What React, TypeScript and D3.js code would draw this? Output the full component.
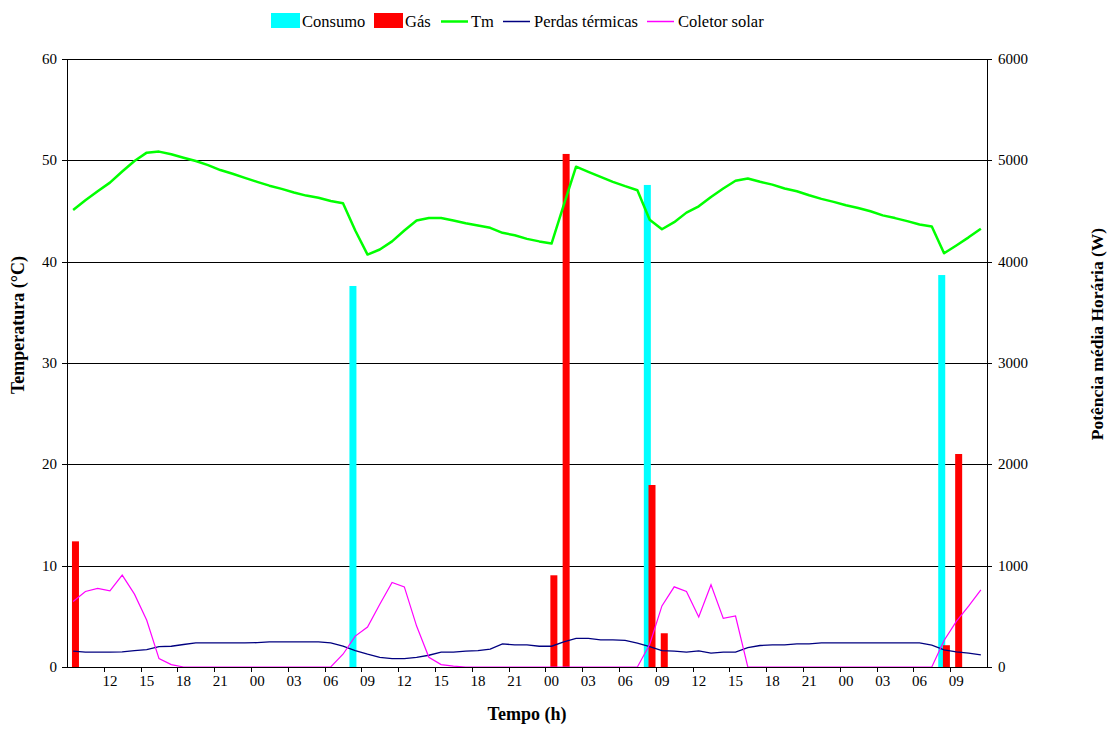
import React from "react";
import * as d3 from "d3";

const categories: string[] = [
  "09","10","11","12","13","14","15","16","17","18","19","20","21","22","23",
  "00","01","02","03","04","05","06","07","08","09","10","11","12","13","14","15","16","17","18","19","20","21","22","23",
  "00","01","02","03","04","05","06","07","08","09","10","11","12","13","14","15","16","17","18","19","20","21","22","23",
  "00","01","02","03","04","05","06","07","08","09","10","11",
];
// unique keys for the band scale
const catKeys = categories.map((c, i) => `${i}_${c}`);

const tmValues: number[] = [
  45.1, 46.06, 46.95, 47.8, 48.9, 49.93, 50.76, 50.86, 50.6, 50.26,
  49.93, 49.53, 49.04, 48.67, 48.27, 47.88, 47.5, 47.18, 46.82, 46.52,
  46.3, 45.99, 45.76, 43.08, 40.7, 41.2, 42.0, 43.08, 44.07, 44.3,
  44.3, 44.07, 43.8, 43.57, 43.34, 42.85, 42.6, 42.25, 42.0, 41.79,
  45.6, 49.37, 48.87, 48.37, 47.88, 47.45, 47.05, 44.14, 43.2, 43.9,
  44.84, 45.46, 46.39, 47.22, 47.98, 48.21, 47.88, 47.6, 47.22, 46.95,
  46.55, 46.2, 45.9, 45.56, 45.3, 44.97, 44.57, 44.3, 44.0, 43.67,
  43.47, 40.83, 41.6, 42.4, 43.25,
];

const coletorValues: number[] = [
  646, 745, 775, 752, 907, 719, 461, 83, 24, 0,
  0, 0, 0, 0, 0, 0, 0, 0, 0, 0,
  0, 0, 126, 305, 394, 620, 834, 791, 404, 96,
  24, 8, 0, 0, 0, 0, 0, 0, 0, 0,
  0, 0, 0, 0, 0, 0, 0, 222, 603, 791,
  745, 494, 811, 480, 503, 0, 0, 0, 0, 0,
  0, 0, 0, 0, 0, 0, 0, 0, 0, 0,
  0, 262, 450, 600, 762,
];

const perdasValues: number[] = [
  156, 146, 146, 146, 149, 162, 172, 202, 205, 222,
  238, 238, 238, 238, 238, 240, 248, 248, 248, 248,
  248, 238, 205, 162, 126, 96, 83, 83, 96, 116,
  146, 146, 156, 162, 176, 228, 218, 218, 205, 205,
  248, 282, 282, 268, 268, 262, 235, 202, 162, 156,
  146, 159, 136, 146, 146, 192, 212, 218, 218, 228,
  228, 238, 238, 238, 238, 238, 238, 238, 238, 238,
  215, 169, 149, 136, 119,
];

const consumoValues: number[] = [
  0, 0, 0, 0, 0, 0, 0, 0, 0, 0,
  0, 0, 0, 0, 0, 0, 0, 0, 0, 0,
  0, 0, 0, 3760, 0, 0, 0, 0, 0, 0,
  0, 0, 0, 0, 0, 0, 0, 0, 0, 0,
  0, 0, 0, 0, 0, 0, 0, 4757, 0, 0,
  0, 0, 0, 0, 0, 0, 0, 0, 0, 0,
  0, 0, 0, 0, 0, 0, 0, 0, 0, 0,
  0, 3868, 0, 0, 0,
];

const gasValues: number[] = [
  1240, 0, 0, 0, 0, 0, 0, 0, 0, 0,
  0, 0, 0, 0, 0, 0, 0, 0, 0, 0,
  0, 0, 0, 0, 0, 0, 0, 0, 0, 0,
  0, 0, 0, 0, 0, 0, 0, 0, 0, 905,
  5063, 0, 0, 0, 0, 0, 0, 1796, 333, 0,
  0, 0, 0, 0, 0, 0, 0, 0, 0, 0,
  0, 0, 0, 0, 0, 0, 0, 0, 0, 0,
  0, 215, 2102, 0, 0,
];

const leftTicks = [0, 10, 20, 30, 40, 50, 60];
const rightTicks = [0, 1000, 2000, 3000, 4000, 5000, 6000];

const FONT = '"Liberation Serif", "DejaVu Serif", serif';
const T = { fontFamily: FONT } as React.CSSProperties;

export default function App() {
  const W = 1114, H = 733;
  const left = 67, right = 987, top = 59, bottom = 667;

  const x = d3.scaleBand<string>().domain(catKeys).range([left, right]).padding(0);
  const bw = x.bandwidth();
  const yL = d3.scaleLinear().domain([0, 60]).range([bottom, top]);
  const yR = d3.scaleLinear().domain([0, 6000]).range([bottom, top]);
  const cx = (i: number) => (x(catKeys[i]) as number) + bw / 2;

  const tmLine = d3.line<number>().x((_, i) => cx(i)).y((d) => yL(d));
  const rLine = d3.line<number>().x((_, i) => cx(i)).y((d) => yR(d));

  const barW = 7;
  const crisp = (v: number) => Math.round(v) + 0.5;

  const labelIdx = categories.map((_, i) => i).filter((i) => i > 0 && i % 3 === 0);
  const tickIdx = d3.range(3, categories.length, 3);

  const legendItems = [
    { type: "rect", color: "#00FFFF", label: "Consumo", x: 271, tx: 302 },
    { type: "rect", color: "#FF0000", label: "Gás", x: 374, tx: 405 },
    { type: "line", color: "#00FF00", label: "Tm", x: 441, tx: 471, w: 2.5 },
    { type: "line", color: "#000080", label: "Perdas térmicas", x: 503, tx: 534, w: 1.5 },
    { type: "line", color: "#FF00FF", label: "Coletor solar", x: 647, tx: 678, w: 1.5 },
  ];

  return (
    <svg
      width={W}
      height={H}
      style={{ position: "absolute", left: 0, top: 0, background: "#fff", fontFamily: FONT }}
    >
      <rect x={0} y={0} width={W} height={H} fill="#fff" />
      {/* gridlines */}
      {leftTicks.filter((t) => t > 0).map((t) => (
        <line key={"g" + t} x1={left} x2={right} y1={crisp(yL(t))} y2={crisp(yL(t))} stroke="#000" strokeWidth={1} />
      ))}

      {/* bars */}
      {consumoValues.map((v, i) =>
        v > 0 ? (
          <rect key={"c" + i} x={(x(catKeys[i]) as number) + 0.3} y={yR(v)} width={barW} height={bottom - yR(v)} fill="#00FFFF" />
        ) : null
      )}
      {gasValues.map((v, i) =>
        v > 0 ? (
          <rect key={"r" + i} x={(x(catKeys[i]) as number) + bw - barW - 0.3} y={yR(v)} width={barW} height={bottom - yR(v)} fill="#FF0000" />
        ) : null
      )}

      {/* lines */}
      <path d={rLine(perdasValues) || ""} fill="none" stroke="#000080" strokeWidth={1.3} />
      <path d={rLine(coletorValues) || ""} fill="none" stroke="#FF00FF" strokeWidth={1.2} />
      <path d={tmLine(tmValues) || ""} fill="none" stroke="#00FF00" strokeWidth={2.5} strokeLinejoin="round" />

      {/* axes */}
      <line x1={crisp(left)} x2={crisp(left)} y1={top} y2={bottom} stroke="#000" />
      <line x1={crisp(right)} x2={crisp(right)} y1={top} y2={bottom} stroke="#000" />
      <line x1={left} x2={right} y1={crisp(bottom)} y2={crisp(bottom)} stroke="#000" />

      {leftTicks.map((t) => (
        <g key={"lt" + t}>
          <line x1={left - 5} x2={left} y1={crisp(yL(t))} y2={crisp(yL(t))} stroke="#000" />
          <text style={T} x={57} y={yL(t)} dy="0.33em" textAnchor="end" fontSize={15}>{t}</text>
        </g>
      ))}
      {rightTicks.map((t) => (
        <g key={"rt" + t}>
          <line x1={right} x2={right + 5} y1={crisp(yR(t))} y2={crisp(yR(t))} stroke="#000" />
          <text style={T} x={998} y={yR(t)} dy="0.33em" textAnchor="start" fontSize={15}>{t}</text>
        </g>
      ))}
      {tickIdx.map((i) => {
        const xx = crisp(x(catKeys[i]) as number);
        return <line key={"xt" + i} x1={xx} x2={xx} y1={bottom} y2={bottom + 5} stroke="#000" />;
      })}
      {labelIdx.map((i) => (
        <text style={T} key={"xl" + i} x={cx(i)} y={686} textAnchor="middle" fontSize={15}>{categories[i]}</text>
      ))}

      {/* axis titles */}
      <text style={T} x={527} y={720} textAnchor="middle" fontSize={18} fontWeight="bold">Tempo (h)</text>
      <text style={T} transform="translate(24,325) rotate(-90)" textAnchor="middle" fontSize={18} fontWeight="bold">Temperatura (°C)</text>
      <text style={T} transform="translate(1103,334) rotate(-90)" textAnchor="middle" fontSize={17.5} fontWeight="bold">Potência média Horária (W)</text>

      {/* legend */}
      {legendItems.map((it) => (
        <g key={it.label}>
          {it.type === "rect" ? (
            <rect x={it.x} y={13} width={29} height={15} fill={it.color} />
          ) : (
            <line x1={it.x} x2={it.x + 27} y1={21.5} y2={21.5} stroke={it.color} strokeWidth={it.w} />
          )}
          <text style={T} x={it.tx} y={27} fontSize={16.5}>{it.label}</text>
        </g>
      ))}
    </svg>
  );
}
